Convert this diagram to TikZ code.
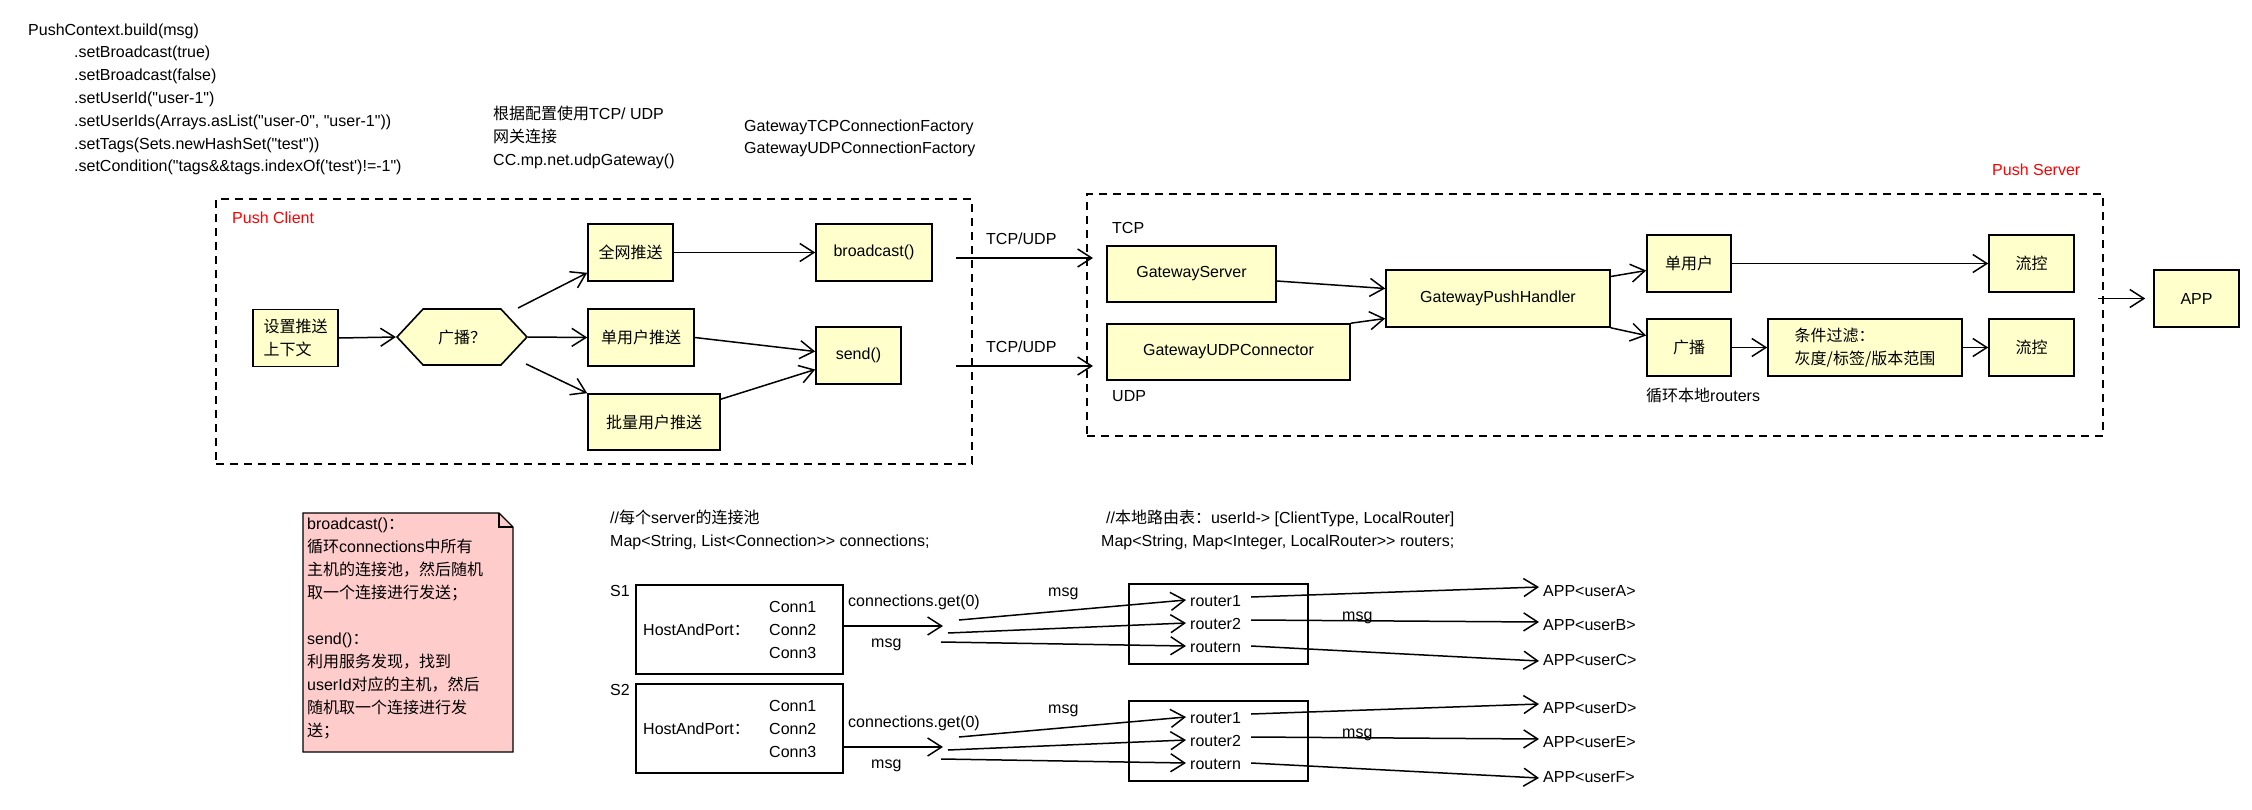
\documentclass[tikz,border=0pt]{standalone}
\usepackage{fontspec}
\newfontfamily\latin{Liberation Sans}
\newfontfamily\cjk{Noto Sans CJK SC}
\usetikzlibrary{arrows.meta,shapes.symbols}

\definecolor{boxyellow}{RGB}{255,255,204}
\definecolor{notepink}{RGB}{255,204,204}

\begin{document}
\begin{tikzpicture}[x=1pt,y=-1pt,
    every node/.style={font=\latin\fontsize{16pt}{23pt}\selectfont},
    lbl/.style={anchor=west, inner sep=0pt, text height=12pt, text depth=4pt},
    ybox/.style={draw=black, fill=boxyellow, line width=1.6pt, minimum height=57pt, inner sep=2pt},
    wbox/.style={draw=black, line width=1.3pt},
    zone/.style={draw=black, line width=1.3pt, dash pattern=on 8pt off 6pt},
    arr/.style={line width=1.5pt, -{Straight Barb[length=14pt,width=18pt]}}]
    \useasboundingbox (0,0) rectangle (2252,809);

    % builder call
    \node[lbl] (code0) at (28,31) {PushContext.build(msg)};
    \foreach \codeline [count=\i] in {{.setBroadcast(true)}, {.setBroadcast(false)}, {.setUserId("user-1")},
        {.setUserIds(Arrays.asList("user-0", "user-1"))}, {.setTags(Sets.newHashSet("test"))},
        {.setCondition("tags\&\&tags.indexOf('test')!=-1")}} {
        \node[lbl] (code\i) at (74,31+22.8*\i) {\codeline};
    }

    \node[lbl] (cfg1) at (493,115) {{\cjk 根据配置使用}TCP/ UDP};
    \node[lbl] (cfg2) at (493,138) {{\cjk 网关连接}};
    \node[lbl] (cfg3) at (493,161) {CC.mp.net.udpGateway()};
    \node[lbl] (fac1) at (744,127) {GatewayTCPConnectionFactory};
    \node[lbl] (fac2) at (744,149) {GatewayUDPConnectionFactory};

    % client side
    \node[zone, minimum width=756pt, minimum height=265pt] (client) at (594,331.5) {};
    \node[lbl, text=red] (clientlbl) at (232,219) {Push Client};

    \node[ybox, minimum width=85pt, align=left] (ctx) at (295.5,338) {{\cjk 设置推送}\\{\cjk 上下文}};
    \node[ybox, shape=signal, signal to=east and west, signal pointer angle=94,
        minimum width=130pt, minimum height=56pt] (cast) at (462,337) {{\cjk 广播？}};
    \node[ybox, minimum width=85pt] (all) at (630.5,252.5) {{\cjk 全网推送}};
    \node[ybox, minimum width=106pt] (single) at (641,337.5) {{\cjk 单用户推送}};
    \node[ybox, minimum width=132pt, minimum height=56pt] (batch) at (654,422) {{\cjk 批量用户推送}};
    \node[ybox, minimum width=116pt] (bcast) at (874,252.5) {broadcast()};
    \node[ybox, minimum width=85pt] (send) at (858.5,355.5) {send()};

    \draw[arr] (ctx.east) -- (cast.west);
    \draw[arr] ([xshift=-10pt,yshift=29pt]cast.east) -- ([yshift=9pt]all.south west);
    \draw[arr] (cast.east) -- (single.west);
    \draw[arr] ([xshift=-2pt,yshift=-27pt]cast.east) -- (batch.north west);
    \draw[arr] (all.east) -- (bcast.west);
    \draw[arr] (single.east) -- ([yshift=4pt]send.west);
    \draw[arr] ([yshift=-6pt]batch.north east) -- ([yshift=-14pt]send.west);

    % gateway link
    \coordinate (tcpa) at (956,258);
    \coordinate (tcpb) at (1093,258);
    \coordinate (udpa) at (956,366);
    \coordinate (udpb) at (1093,366);
    \draw[arr] (tcpa) -- (tcpb);
    \draw[arr] (udpa) -- (udpb);
    \node[lbl] (linka) at (986,240) {TCP/UDP};
    \node[lbl] (linkb) at (986,348) {TCP/UDP};

    % server side
    \node[zone, minimum width=1016pt, minimum height=242pt] (server) at (1595,315) {};
    \node[lbl, text=red] (serverlbl) at (1992,171) {Push Server};
    \node[lbl] (tcplbl) at (1112,229) {TCP};
    \node[lbl] (udplbl) at (1112,397) {UDP};

    \node[ybox, minimum width=169pt, minimum height=56pt] (gws) at (1191.5,274) {GatewayServer};
    \node[ybox, minimum width=243pt, minimum height=56pt] (udpc) at (1228.5,352) {GatewayUDPConnector};
    \node[ybox, minimum width=224pt] (gph) at (1498,298.5) {GatewayPushHandler};
    \node[ybox, minimum width=84pt] (su) at (1689,263.5) {{\cjk 单用户}};
    \node[ybox, minimum width=84pt] (gb) at (1689,347.5) {{\cjk 广播}};
    \node[ybox, minimum width=194pt, align=left] (filter) at (1865,347.5) {{\cjk 条件过滤：}\\{\cjk 灰度/标签/版本范围}};
    \node[ybox, minimum width=85pt] (fc1) at (2031.5,263.5) {{\cjk 流控}};
    \node[ybox, minimum width=85pt] (fc2) at (2031.5,347.5) {{\cjk 流控}};
    \node[ybox, minimum width=85pt] (app) at (2196.5,298.5) {APP};
    \node[lbl] (looplbl) at (1646,397) {{\cjk 循环本地}routers};

    \draw[arr] ([yshift=-7pt]gws.east) -- ([yshift=10pt]gph.west);
    \draw[arr] (udpc.north east) -- ([yshift=-20pt]gph.west);
    \draw[arr] ([yshift=22pt]gph.east) -- ([yshift=-7pt]su.west);
    \draw[arr] (gph.south east) -- ([yshift=12pt]gb.west);
    \draw[arr] (su.east) -- (fc1.west);
    \draw[arr] (gb.east) -- (filter.west);
    \draw[arr] (filter.east) -- (fc2.west);
    \coordinate (srvout) at (2098,298.5);
    \draw[arr] (srvout) -- ([xshift=-8pt]app.west);

    % note
    \filldraw[fill=notepink, draw=black, line width=1.3pt] (303,513) -- (499,513) -- (513,527) -- (513,752) -- (303,752) -- cycle;
    \draw[line width=1.3pt] (499,513) -- (499,527) -- (513,527);
    \node[anchor=north west, align=left, inner sep=0pt] (note) at (307,518) {broadcast(){\cjk ：}\\
        {\cjk 循环}connections{\cjk 中所有}\\
        {\cjk 主机的连接池，然后随机}\\
        {\cjk 取一个连接进行发送；}\\[23pt]
        send(){\cjk ：}\\
        {\cjk 利用服务发现，找到}\\
        userId{\cjk 对应的主机，然后}\\
        {\cjk 随机取一个连接进行发}\\
        {\cjk 送；}};

    % connection pools and routers
    \node[lbl] (pooltxt) at (610,519) {//{\cjk 每个}server{\cjk 的连接池}};
    \node[lbl] (poolmap) at (610,542) {Map<String, List<Connection>> connections;};
    \node[lbl] (routetxt) at (1106,519) {//{\cjk 本地路由表：}userId-> [ClientType, LocalRouter]};
    \node[lbl] (routemap) at (1101,542) {Map<String, Map<Integer, LocalRouter>> routers;};

    \foreach \k/\dy/\dc/\dz/\ua/\ub/\uc in {1/0/0/0/A/B/C, 2/99/121/117/D/E/F} {
        \node[lbl] (slbl\k) at (610,592+\dy) {S\k};
        \node[wbox, minimum width=207pt, minimum height=89pt] (s\k) at (739.5,629.5+\dy) {};
        \node[lbl] (hp\k) at (643,631+\dy) {HostAndPort{\cjk ：}};
        \foreach \c in {1,2,3}
            \node[lbl] (conn\k\c) at (769,585+23*\c+\dy) {Conn\c};
        \node[lbl] (get\k) at (848,602+\dc) {connections.get(0)};
        \coordinate (pick\k) at (943,626+\dc);
        \draw[arr] (s\k.east |- pick\k) -- (pick\k);
        \node[lbl] (msga\k) at (871,643+\dc) {msg};

        \node[wbox, minimum width=179pt, minimum height=80pt] (rt\k) at (1218.5,624+\dz) {};
        \node[lbl] (r\k1) at (1190,602+\dz) {router1};
        \node[lbl] (r\k2) at (1190,625+\dz) {router2};
        \node[lbl] (r\k3) at (1190,648+\dz) {routern};
        \coordinate (fa\k) at (959,620+\dz);
        \coordinate (fb\k) at (948,633+\dz);
        \coordinate (fc\k) at (941,642+\dz);
        \draw[arr] (fa\k) -- ([xshift=-4pt,yshift=2pt]r\k1.west);
        \draw[arr] (fb\k) -- ([xshift=-4pt,yshift=2pt]r\k2.west);
        \draw[arr] (fc\k) -- ([xshift=-4pt,yshift=2pt]r\k3.west);
        \node[lbl] (msgb\k) at (1048,592+\dz) {msg};

        \node[lbl] (ua\k) at (1543,592+\dz) {APP<user\ua>};
        \node[lbl] (ub\k) at (1543,626+\dz) {APP<user\ub>};
        \node[lbl] (uc\k) at (1543,661+\dz) {APP<user\uc>};
        \draw[arr] ([xshift=10pt,yshift=5pt]r\k1.east) -- ([xshift=-4pt,yshift=5pt]ua\k.west);
        \draw[arr] ([xshift=10pt,yshift=5pt]r\k2.east) -- ([xshift=-4pt,yshift=4pt]ub\k.west);
        \draw[arr] ([xshift=10pt,yshift=2pt]r\k3.east) -- ([xshift=-4pt]uc\k.west);
        \node[lbl] (msgc\k) at (1342,616+\dz) {msg};
    }
\end{tikzpicture}
\end{document}
